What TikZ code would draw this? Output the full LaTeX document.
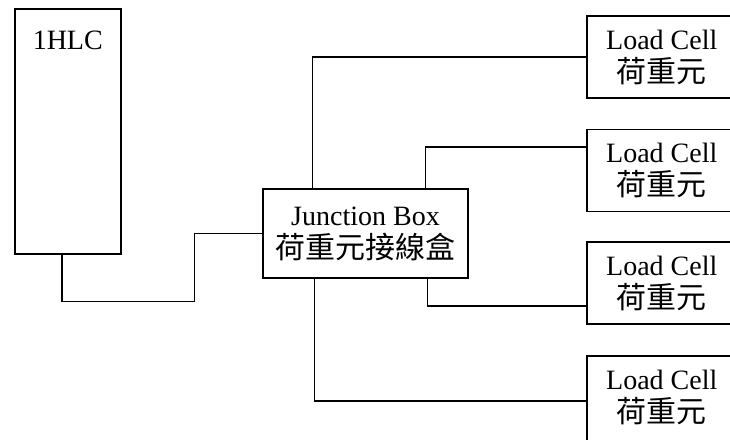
\documentclass[tikz,border=0pt]{standalone}
\usepackage{fontspec}
\setmainfont{Liberation Serif}
\newfontfamily\cjk[Scale=1.07]{Noto Sans CJK TC}
\usetikzlibrary{positioning}
\begin{document}
\begin{tikzpicture}[x=1pt, y=-1pt, line width=1.5pt,
		unit/.style={draw, rectangle, inner sep=0pt, align=center, font=\fontsize{28}{33}\selectfont},
		cellbox/.style={unit, minimum width=150pt, minimum height=82pt, anchor=west},
		wire/.style={draw}]
		\path[use as bounding box, clip] (0,0) rectangle (730,439);
		
		\node[unit, minimum width=106pt, minimum height=245pt, anchor=north west] (hlc) at (14,8) {};
		\node[font=\fontsize{28}{33}\selectfont, below=19pt of hlc.north] (hlclabel) {1HLC};
		\node[unit, minimum width=205pt, minimum height=89pt] (jb) at (365.5,233.5) {Junction Box\\{\cjk 荷重元接線盒}};
		
		\node[cellbox] (lc1) at (586,57) {Load Cell\\{\cjk 荷重元}};
		\node[cellbox] (lc2) at (586,170.5) {Load Cell\\{\cjk 荷重元}};
		\node[cellbox] (lc3) at (586,283) {Load Cell\\{\cjk 荷重元}};
		\node[cellbox, minimum height=90pt, text depth=10pt] (lc4) at (586,401) {Load Cell\\{\cjk 荷重元}};
		
		\draw[wire] ([xshift=-6pt]hlc.south) -- ++(0,47) -| ([xshift=-68pt]jb.west) -- (jb.west);
		\draw[wire] ([xshift=50pt]jb.north west) |- (lc1.west);
		\draw[wire] ([xshift=163pt]jb.north west) |- ([yshift=23.5pt]lc2.west);
		\draw[wire] ([xshift=165pt]jb.south west) |- ([yshift=-23pt]lc3.west);
		\draw[wire] ([xshift=52pt]jb.south west) |- (lc4.west);
	\end{tikzpicture}
\end{document}
